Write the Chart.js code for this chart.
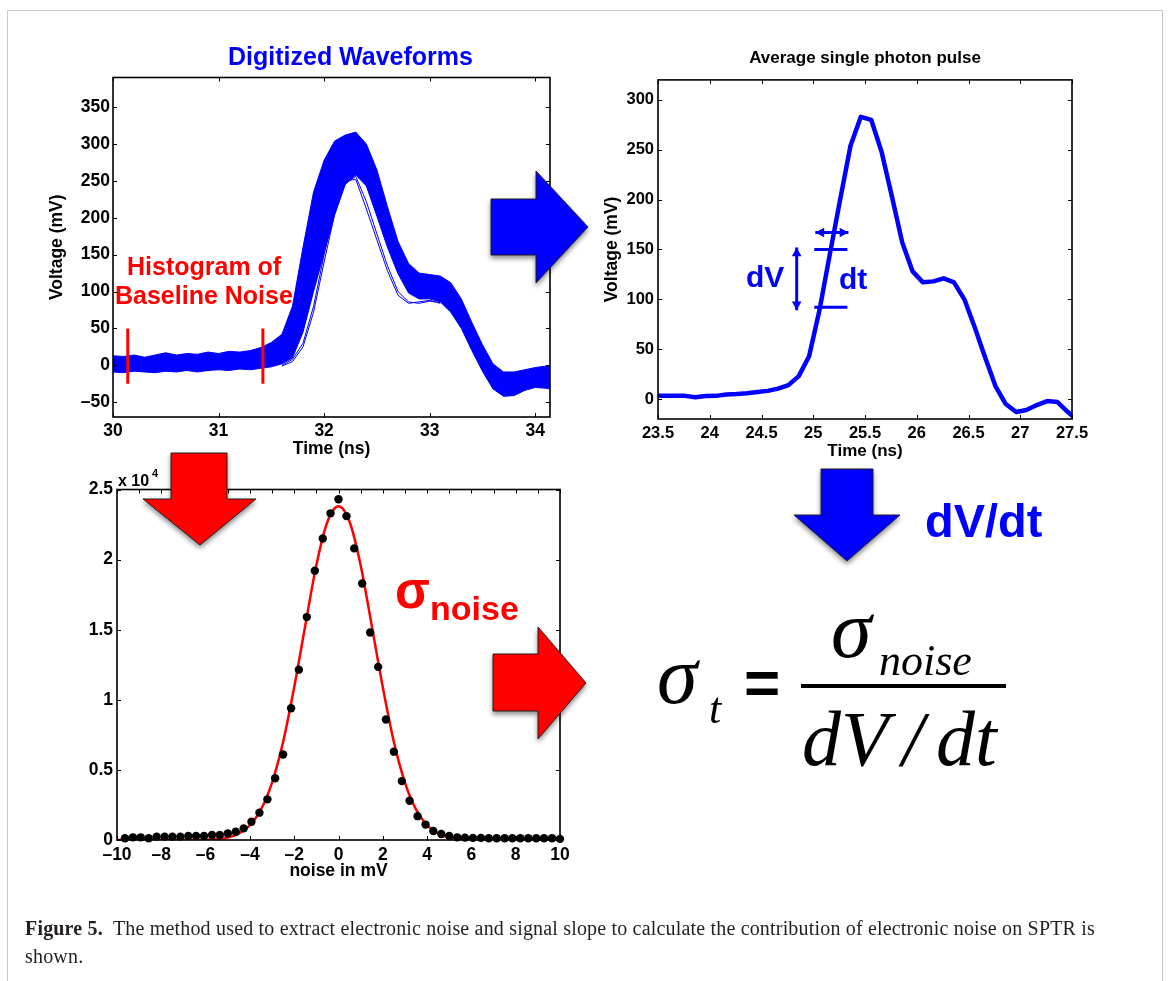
<!DOCTYPE html>
<html>
<head>
<meta charset="utf-8">
<title>Electronic noise and signal slope</title>
<script src="https://cdn.jsdelivr.net/npm/chart.js@4.4.1/dist/chart.umd.min.js"></script>
<style>
  html, body { margin: 0; padding: 0; background: #fff; }
  #page { position: relative; width: 1168px; height: 981px; overflow: hidden; background: #fff; }
  #frame { position: absolute; left: 7px; top: 10px; width: 1154px; height: 1000px; border: 1.5px solid #c8c8c8; }
  canvas { position: absolute; }
  #wave { left: 40px; top: 64px; }
  #pulse { left: 595px; top: 66px; }
  #hist { left: 70px; top: 475px; }
  #overlay { position: absolute; left: 0; top: 0; }
  #caption { position: absolute; left: 25px; top: 914px; font-family: "Liberation Serif", "Times New Roman", serif;
             font-size: 20px; letter-spacing: 0.18px; line-height: 28px; white-space: nowrap; color: #231f20; }
</style>
</head>
<body>
<div id="page">
  <div id="frame"></div>
  <canvas id="wave" width="525" height="400"></canvas>
  <canvas id="pulse" width="502" height="400"></canvas>
  <canvas id="hist" width="505" height="411"></canvas>

  <svg id="overlay" width="1168" height="981" xmlns="http://www.w3.org/2000/svg">
    <defs>
      <filter id="shadow" x="-20%" y="-20%" width="150%" height="150%">
        <feDropShadow dx="0" dy="3" stdDeviation="2.5" flood-color="#000" flood-opacity="0.45"/>
      </filter>
    </defs>

    <!-- block arrows between the panels -->
    <polygon points="491,199 536,199 536,171 588,227 536,283 536,255 491,255"
             fill="#0000ff" stroke="#222" stroke-width="1" filter="url(#shadow)"/>
    <polygon points="171,453 227,453 227,499 256,499 200,545 143,499 171,499"
             fill="#ff0000" stroke="#222" stroke-width="1" filter="url(#shadow)"/>
    <polygon points="493,654 538,654 538,627 586,683 538,739 538,711 493,711"
             fill="#ff0000" stroke="#222" stroke-width="1" filter="url(#shadow)"/>
    <polygon points="821,469 873,469 873,515 900,515 847,561 794,515 821,515"
             fill="#0000ff" stroke="#222" stroke-width="1" filter="url(#shadow)"/>

    <g font-family="Liberation Sans, Arial, sans-serif" font-weight="bold">
      <text x="228" y="65" font-size="25" fill="#0000ff">Digitized Waveforms</text>
      <text x="127" y="275" font-size="25" fill="#ff0000">Histogram of</text>
      <text x="115" y="304" font-size="25" fill="#ff0000">Baseline Noise</text>
      <text x="865" y="62.5" font-size="17" fill="#000" text-anchor="middle">Average single photon pulse</text>
      <text x="746" y="287" font-size="30" fill="#0000ff">dV</text>
      <text x="839" y="288.5" font-size="30" fill="#0000ff">dt</text>
      <text x="925" y="537" font-size="47" fill="#0000ff">dV/dt</text>
      <text x="395" y="608" font-size="51" fill="#ff0000">σ</text>
      <text x="430" y="620" font-size="34" fill="#ff0000">noise</text>
      <text x="118" y="486" font-size="16" fill="#000">x 10</text>
      <text x="152" y="477" font-size="11" fill="#000">4</text>
      <text x="744" y="704" font-size="62" fill="#000">=</text>
    </g>

    <!-- timing resolution formula -->
    <g font-family="Liberation Serif, Times New Roman, serif" font-style="italic" fill="#000">
      <text x="657" y="703" font-size="82">σ</text>
      <text x="709" y="723" font-size="44">t</text>
      <text x="831" y="657" font-size="82">σ</text>
      <text x="879" y="675" font-size="44">noise</text>
      <text x="802" y="765" font-size="78">dV</text>
      <text x="902" y="765" font-size="78">/</text>
      <text x="936" y="765" font-size="78">dt</text>
    </g>
    <rect x="801" y="684" width="205" height="4" fill="#000"/>
  </svg>

  <div id="caption"><b>Figure 5.</b>&nbsp; The method used to extract electronic noise and signal slope to calculate the contribution of electronic noise on SPTR is<br>shown.</div>
</div>

<script>
// ---- digitized waveforms (mV), 0.1 ns sampling: upper/lower edge of the overlaid traces
const waveTime  = [30.0, 30.1, 30.2, 30.3, 30.4, 30.5, 30.6, 30.7, 30.8, 30.9,
                   31.0, 31.1, 31.2, 31.3, 31.4, 31.5, 31.6, 31.7, 31.8, 31.9,
                   32.0, 32.1, 32.2, 32.3, 32.4, 32.5, 32.6, 32.7, 32.8, 32.9,
                   33.0, 33.1, 33.2, 33.3, 33.4, 33.5, 33.6, 33.7, 33.8, 33.9,
                   34.0, 34.1, 34.2];
const waveUpper = [13, 12, 14, 11, 14, 17, 14, 16, 15, 18,
                   16, 19, 18, 20, 24, 31, 42, 80, 160, 235,
                   278, 304, 312, 316, 300, 265, 215, 168, 138, 125,
                   123, 121, 112, 90, 58, 28, 2, -9, -9, -6,
                   -3, -1, -2];
const waveLower = [-9, -10, -8, -9, -10, -8, -9, -7, -9, -7,
                   -6, -7, -5, -6, -4, -2, 2, 10, 45, 100,
                   152, 204, 245, 258, 243, 202, 160, 124, 98, 90,
                   90, 86, 72, 50, 20, -8, -32, -42, -41, -34,
                   -30, -31, -34];

// two late, low-amplitude traces that sit apart from the bundle
const lateTime   = [31.6, 31.7, 31.8, 31.9, 32.0, 32.1, 32.2, 32.3, 32.4, 32.5, 32.6, 32.7, 32.8, 32.9, 33.0, 33.1];
const lateTraceA = [0, 8, 30, 80, 150, 215, 250, 252, 212, 170, 128, 95, 84, 86, 88, 84];
const lateTraceB = [-1, 5, 25, 72, 140, 205, 246, 256, 222, 178, 135, 100, 86, 84, 87, 85];

// baseline window markers
const gateTimes = [30.14, 31.42];
const gateRange = [-25, 50];

const waveXTicks = [30, 31, 32, 33, 34];
const waveYTicks = [-50, 0, 50, 100, 150, 200, 250, 300, 350];

// ---- average single photon pulse (mV)
const pulseTime = [23.46, 23.56, 23.66, 23.76, 23.86, 23.96, 24.06, 24.16, 24.26, 24.36,
                   24.46, 24.56, 24.66, 24.76, 24.86, 24.96, 25.06, 25.16, 25.26, 25.36,
                   25.46, 25.56, 25.66, 25.76, 25.86, 25.96, 26.06, 26.16, 26.26, 26.36,
                   26.46, 26.56, 26.66, 26.76, 26.86, 26.96, 27.06, 27.16, 27.26, 27.36,
                   27.46, 27.56];
const pulseVolt = [3.3, 3.3, 3.3, 3.2, 1.8, 3.0, 3.2, 4.5, 5.0, 5.8,
                   7.0, 8.2, 10.5, 14, 23, 43, 89, 145, 200, 254,
                   283, 280, 248, 203, 157, 128, 117, 118, 121, 117,
                   100, 72, 42, 13, -5, -13, -11, -6, -2, -3,
                   -13, -22];
const pulseXTicks = [23.5, 24, 24.5, 25, 25.5, 26, 26.5, 27, 27.5];
const pulseYTicks = [0, 50, 100, 150, 200, 250, 300];

// slope markers on the leading edge (data units)
const dvLevels   = [150, 92];
const dtSpan     = [25.01, 25.33];
const dvArrow    = { t: 24.84, from: 89, to: 152 };
const dtArrow    = { v: 167, from: 25.02, to: 25.34 };

// ---- baseline noise histogram (counts) and gaussian fit
const noiseBins = [-9.64, -9.28, -8.93, -8.57, -8.21, -7.85, -7.50, -7.14, -6.78, -6.43,
                   -6.07, -5.71, -5.36, -5.00, -4.64, -4.28, -3.93, -3.57, -3.21, -2.86,
                   -2.50, -2.14, -1.79, -1.43, -1.07, -0.71, -0.36, 0.00, 0.36, 0.71,
                   1.07, 1.43, 1.79, 2.14, 2.50, 2.86, 3.21, 3.57, 3.93, 4.28,
                   4.64, 5.00, 5.36, 5.71, 6.07, 6.43, 6.78, 7.14, 7.50, 7.85,
                   8.21, 8.57, 8.93, 9.28, 9.64, 10.00];
const noiseCounts = [120, 190, 190, 120, 240, 240, 240, 240, 280, 280,
                     280, 360, 360, 470, 590, 830, 1300, 1950, 2900, 4400,
                     6100, 9400, 12150, 15900, 19200, 21500, 23300, 24300, 23100, 20800,
                     18300, 14800, 12350, 8600, 6300, 4200, 2800, 1700, 1100, 640,
                     430, 280, 190, 170, 150, 150, 120, 120, 120, 120,
                     120, 120, 120, 120, 120, 80];
const fitX = [-10, -6, -5.5, -5, -4.5, -4, -3.5, -3, -2.5, -2, -1.5, -1, -0.5, 0,
              0.5, 1, 1.5, 2, 2.5, 3, 3.5, 4, 4.5, 5, 5.5, 6, 10];
const fitY = [0, 20, 64, 180, 460, 1050, 2180, 4100, 7000, 10900, 15300, 19600, 22700, 23800,
              22700, 19600, 15300, 10900, 7000, 4100, 2180, 1050, 460, 180, 64, 20, 0];
const histXTicks   = [-10, -8, -6, -4, -2, 0, 2, 4, 6, 8, 10];
const histTopTicks = [-10, -9, -8, -7, -6, -5, -4, -3, -2, -1, 0, 1, 2, 3, 4, 5, 6, 7, 8, 9, 10];
const histYTicks   = [0, 5000, 10000, 15000, 20000, 25000];

const BLUE = '#0000ff';
const RED = '#ff0000';
const FONT = 'Liberation Sans, Arial, Helvetica, sans-serif';

Chart.defaults.font.family = FONT;
Chart.defaults.font.weight = 'bold';
Chart.defaults.color = '#000';
Chart.defaults.animation = false;
Chart.defaults.responsive = false;
Chart.defaults.devicePixelRatio = 1;
Chart.defaults.plugins.legend.display = false;
Chart.defaults.plugins.tooltip.enabled = false;
Chart.defaults.elements.point.radius = 0;

const xy = (xs, ys) => xs.map((x, i) => ({ x: x, y: ys[i] }));
const dash = v => (v < 0 ? '\u2013' + Math.abs(v) : String(v));

// matlab-style box: axis frame with inward ticks on all four sides
function boxAxes(topTicks) {
  return {
    id: 'boxAxes',
    afterDatasetsDraw(chart) {
      const { ctx, chartArea: a, scales: { x, y } } = chart;
      const len = 4;
      ctx.save();
      ctx.strokeStyle = '#000';
      ctx.lineWidth = 1;
      ctx.beginPath();
      x.ticks.forEach(t => {
        const px = Math.round(x.getPixelForValue(t.value)) + 0.5;
        ctx.moveTo(px, a.bottom); ctx.lineTo(px, a.bottom - len);
      });
      (topTicks || x.ticks.map(t => t.value)).forEach(v => {
        const px = Math.round(x.getPixelForValue(v)) + 0.5;
        ctx.moveTo(px, a.top); ctx.lineTo(px, a.top + len);
      });
      y.ticks.forEach(t => {
        const py = Math.round(y.getPixelForValue(t.value)) + 0.5;
        ctx.moveTo(a.left, py); ctx.lineTo(a.left + len, py);
        ctx.moveTo(a.right, py); ctx.lineTo(a.right - len, py);
      });
      ctx.stroke();
      ctx.lineWidth = 1.6;
      ctx.strokeRect(a.left, a.top, a.right - a.left, a.bottom - a.top);
      ctx.restore();
    }
  };
}

function axis(opts) {
  return {
    type: 'linear',
    min: opts.min,
    max: opts.max,
    grid: { display: false, drawTicks: false },
    border: { display: false },
    afterBuildTicks: s => { s.ticks = opts.ticks.map(v => ({ value: v })); },
    afterFit: s => {
      if (opts.width !== undefined) s.width = opts.width;
      if (opts.height !== undefined) s.height = opts.height;
    },
    ticks: {
      padding: opts.pad,
      autoSkip: false,
      maxRotation: 0,
      font: { size: opts.size, weight: 'bold' },
      callback: opts.label || (v => dash(v))
    },
    title: opts.title
      ? { display: true, text: opts.title, font: { size: opts.titleSize, weight: 'bold' }, padding: { top: 4, bottom: 4 } }
      : { display: false }
  };
}

// ---- waveforms
new Chart(document.getElementById('wave'), {
  type: 'line',
  data: {
    datasets: [
      { data: xy(waveTime, waveUpper), borderColor: BLUE, borderWidth: 1, fill: false, order: 2, clip: 0 },
      { data: xy(waveTime, waveLower), borderColor: BLUE, borderWidth: 1, fill: '-1', backgroundColor: BLUE, order: 2, clip: 0 },
      { data: xy(lateTime, lateTraceA), borderColor: BLUE, borderWidth: 1, fill: false, order: 1 },
      { data: xy(lateTime, lateTraceB), borderColor: BLUE, borderWidth: 1, fill: false, order: 1 },
      ...gateTimes.map(t => ({
        data: gateRange.map(v => ({ x: t, y: v })),
        borderColor: RED, borderWidth: 3, fill: false, order: 0
      }))
    ]
  },
  options: {
    layout: { padding: { left: 3, top: 10, right: 15, bottom: 0 } },
    scales: {
      x: axis({ min: 30, max: 34.14, ticks: waveXTicks, height: 47, pad: 4, size: 17.5, title: 'Time (ns)', titleSize: 17.5 }),
      y: axis({ min: -70, max: 390, ticks: waveYTicks, width: 70, pad: 3, size: 17.5, title: 'Voltage (mV)', titleSize: 17.5 })
    }
  },
  plugins: [boxAxes()]
});

// ---- average pulse, with dV / dt markers on the rising edge
function arrowHead(ctx, x, y, ang, size) {
  ctx.beginPath();
  ctx.moveTo(x, y);
  ctx.lineTo(x - size * Math.cos(ang - 0.5), y - size * Math.sin(ang - 0.5));
  ctx.lineTo(x - size * Math.cos(ang + 0.5), y - size * Math.sin(ang + 0.5));
  ctx.closePath();
  ctx.fill();
}
function doubleArrow(ctx, x1, y1, x2, y2) {
  const ang = Math.atan2(y2 - y1, x2 - x1);
  ctx.beginPath();
  ctx.moveTo(x1, y1); ctx.lineTo(x2, y2);
  ctx.stroke();
  arrowHead(ctx, x2, y2, ang, 10);
  arrowHead(ctx, x1, y1, ang + Math.PI, 10);
}

const slopeMarks = {
  id: 'slopeMarks',
  afterDatasetsDraw(chart) {
    const { ctx, scales: { x, y } } = chart;
    ctx.save();
    ctx.strokeStyle = BLUE;
    ctx.fillStyle = BLUE;
    ctx.lineWidth = 3;
    dvLevels.forEach(v => {
      ctx.beginPath();
      ctx.moveTo(x.getPixelForValue(dtSpan[0]), y.getPixelForValue(v));
      ctx.lineTo(x.getPixelForValue(dtSpan[1]), y.getPixelForValue(v));
      ctx.stroke();
    });
    const ax = x.getPixelForValue(dvArrow.t);
    doubleArrow(ctx, ax, y.getPixelForValue(dvArrow.from), ax, y.getPixelForValue(dvArrow.to));
    const ay = y.getPixelForValue(dtArrow.v);
    doubleArrow(ctx, x.getPixelForValue(dtArrow.from), ay, x.getPixelForValue(dtArrow.to), ay);
    ctx.restore();
  }
};

new Chart(document.getElementById('pulse'), {
  type: 'line',
  data: {
    datasets: [
      { data: xy(pulseTime, pulseVolt), borderColor: BLUE, borderWidth: 4.5, fill: false, clip: 0, borderJoinStyle: 'round' }
    ]
  },
  options: {
    layout: { padding: { left: 3, top: 10, right: 25, bottom: 0 } },
    scales: {
      x: axis({ min: 23.5, max: 27.5, ticks: pulseXTicks, height: 47, pad: 5, size: 16.5, title: 'Time (ns)', titleSize: 17 }),
      y: axis({ min: -20, max: 320, ticks: pulseYTicks, width: 60, pad: 4, size: 16.5, title: 'Voltage (mV)', titleSize: 17.5 })
    }
  },
  plugins: [boxAxes(), slopeMarks]
});

// ---- noise histogram
new Chart(document.getElementById('hist'), {
  type: 'line',
  data: {
    datasets: [
      { data: xy(noiseBins, noiseCounts), showLine: false, pointRadius: 4.2, pointBackgroundColor: '#000',
        pointBorderWidth: 0, order: 0, clip: false },
      { data: xy(fitX, fitY), borderColor: RED, borderWidth: 2.5, fill: false, cubicInterpolationMode: 'monotone', order: 1 }
    ]
  },
  options: {
    layout: { padding: { left: 0, top: 14, right: 15, bottom: 0 } },
    scales: {
      x: axis({ min: -10, max: 10, ticks: histXTicks, height: 46, pad: 5, size: 17.5, title: 'noise in mV', titleSize: 17.5 }),
      y: axis({ min: 0, max: 25000, ticks: histYTicks, width: 47, pad: 4, size: 17.5, label: v => String(v / 10000) })
    }
  },
  plugins: [boxAxes(histTopTicks)]
});
</script>
</body>
</html>
